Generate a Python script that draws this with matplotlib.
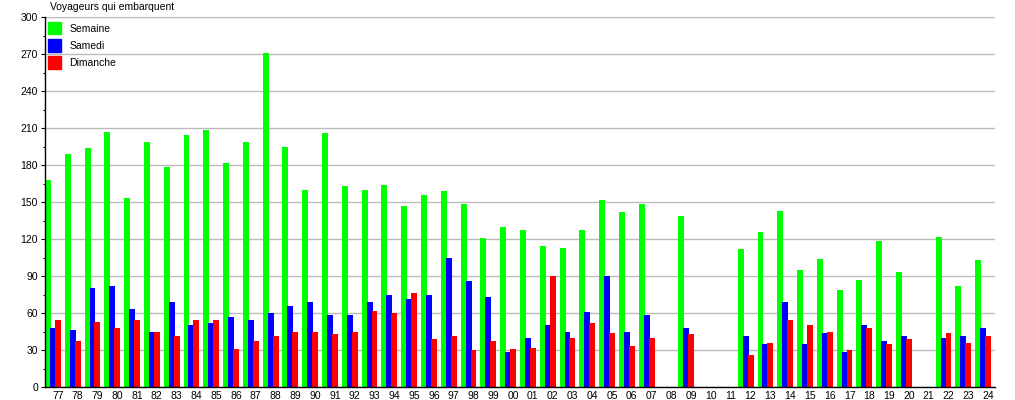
import numpy as np
import matplotlib
matplotlib.use('Agg')
import matplotlib.pyplot as plt
from matplotlib.patches import Patch
from matplotlib.ticker import MultipleLocator

years=['77','78','79','80','81','82','83','84','85','86','87','88','89','90','91','92',
       '93','94','95','96','97','98','99','00','01','02','03','04','05','06','07','08',
       '09','10','11','12','13','14','15','16','17','18','19','20','21','22','23','24']
semaine=[168,189,194,207,153,199,178,204,208,182,199,271,195,160,206,163,
         160,164,147,156,159,148,121,130,127,114,113,127,152,142,148,0,
         139,0,0,112,126,143,95,104,79,87,118,93,0,122,82,103]
samedi=[48,46,80,82,63,45,69,50,52,57,54,60,66,69,58,58,
        69,75,71,75,105,86,73,28,40,50,45,61,90,45,58,0,
        48,0,0,41,35,69,35,44,28,50,37,41,0,40,41,48]
dimanche=[54,37,53,48,54,45,41,54,54,31,37,41,45,45,43,45,
          62,60,76,39,41,30,37,31,32,90,40,52,44,33,40,0,
          43,0,0,26,36,54,50,45,30,48,35,39,0,44,36,41]
series=[('Semaine',semaine,'#00ff00'),('Samedi',samedi,'#0000ff'),('Dimanche',dimanche,'#ff0000')]

plt.rcParams['font.family']=['Liberation Sans','DejaVu Sans']
fig=plt.figure(figsize=(10.15,4),dpi=100)
ax=fig.add_axes([45/1015,13/400,950/1015,370/400])
x=np.arange(len(years))
w=0.3
for k,(name,vals,col) in enumerate(series):
    ax.bar(x-0.5+w/2+k*0.25,vals,width=w,color=col,linewidth=0,zorder=2+k)
ax.set_xlim(-0.5,len(years)-0.5)
ax.set_ylim(0,300)
ax.yaxis.set_major_locator(MultipleLocator(30))
ax.yaxis.set_minor_locator(MultipleLocator(15))
ax.set_xticks(x+0.15)
ax.set_xticklabels(years)
ax.tick_params(axis='x',length=0,pad=3,labelsize=7.5)
ax.tick_params(axis='y',which='major',length=3,width=0.8,labelsize=7.5,pad=2)
ax.tick_params(axis='y',which='minor',length=1.7,width=0.8)
ax.yaxis.grid(True,color='#bbbbbb',linewidth=1,zorder=0)
ax.set_axisbelow(True)
for s in ['top','right']:
    ax.spines[s].set_visible(False)
for s in ['left','bottom']:
    ax.spines[s].set_linewidth(1)
    ax.spines[s].set_zorder(10)
fig.text(50/1015,1-7/400,'Voyageurs qui embarquent',fontsize=7.5,ha='left',va='center')
handles=[Patch(color=c,label=n) for n,_,c in series]
ax.legend(handles=handles,loc='upper left',bbox_to_anchor=(-0.003,1.004),frameon=False,
          fontsize=7.5,handlelength=1.25,handleheight=1.5,handletextpad=0.75,labelspacing=0.44,borderaxespad=0.2)
fig.savefig('out.png',dpi=100)
